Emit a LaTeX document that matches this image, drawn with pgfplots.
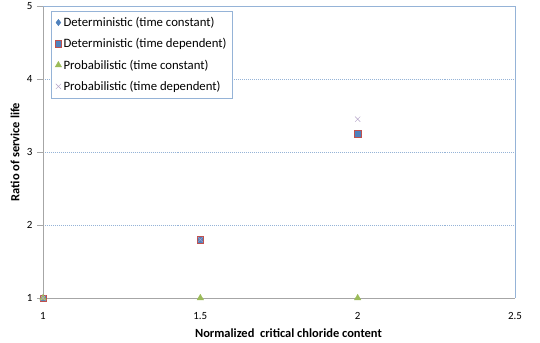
\documentclass[border=0pt]{standalone}
\usepackage{pgfplots}
\pgfplotsset{compat=1.18}
\usepackage{fontspec}
\setmainfont{Carlito}
\definecolor{dblue}{RGB}{79,129,189}
\definecolor{dred}{RGB}{192,80,77}
\definecolor{dgreen}{RGB}{155,187,89}
\definecolor{dpurple}{RGB}{128,100,162}
\definecolor{gridb}{RGB}{149,179,215}
\begin{document}
\begin{tikzpicture}
\begin{axis}[
  scale only axis,
  width=472bp, height=292bp,
  xmin=1, xmax=2.5, ymin=1, ymax=5,
  xtick={1,1.5,2,2.5}, ytick={1,2,3,4,5},
  xticklabels={1,1.5,2,2.5},
  /pgf/number format/assume math mode=true,
  tick label style={font=\fontsize{11}{13}\selectfont},
  xticklabel style={yshift=-5bp},
  yticklabel style={xshift=-1bp},
  axis line style={draw=none},
  xtick style={draw=none},
  ytick style={draw=gray!70, line width=0.8pt},
  ytick pos=left, tick align=outside, major tick length=6bp,
  ymajorgrids,
  major grid style={gridb, dash pattern=on 1pt off 1pt, line width=0.8pt},
  xlabel={\textbf{Normalized\ \ critical chloride content}},
  ylabel={\textbf{Ratio of service life}},
  label style={font=\fontsize{12.5}{14}\selectfont},
  xlabel style={at={(axis description cs:0.52,-0.12)}, anchor=center},
  ylabel style={at={(axis description cs:-0.059,0.5)}, anchor=center},
  legend style={at={(axis description cs:0.017,0.983)}, anchor=north west, draw=gridb, font=\fontsize{12.8}{14.5}\selectfont, row sep=6.5pt, inner sep=4pt},
  legend cell align=left,
  clip=false,
]
\draw[gray!70, line width=1pt] (axis cs:1,1) -- (axis cs:1,5);
\draw[gray!70, line width=1pt] (axis cs:1,1) -- (axis cs:2.5,1);
\draw[gridb, line width=0.8pt] (axis cs:1,5) -- (axis cs:2.5,5) -- (axis cs:2.5,1);
\addplot[only marks, mark=diamond*, mark size=3.2pt, color=dblue, fill=dblue] coordinates {(1,1) (1.5,1.8) (2,3.25)};
\addlegendentry{Deterministic (time constant)}
\addplot[only marks, mark=square*, mark size=3.2pt, draw=dred, fill=dblue] coordinates {(1,1) (1.5,1.8) (2,3.25)};
\addlegendentry{Deterministic (time dependent)}
\addplot[only marks, mark=triangle*, mark size=3.7pt, color=dgreen, fill=dgreen] coordinates {(1,1) (1.5,1) (2,1)};
\addlegendentry{Probabilistic (time constant)}
\addplot[only marks, mark=x, mark size=3.7pt, color=dpurple!60] coordinates {(1,1) (1.5,1.8) (2,3.45)};
\addlegendentry{Probabilistic (time dependent)}
\end{axis}
\pgfresetboundingbox
\path (-43bp,-45bp) rectangle (497bp,298bp);
\end{tikzpicture}
\end{document}
